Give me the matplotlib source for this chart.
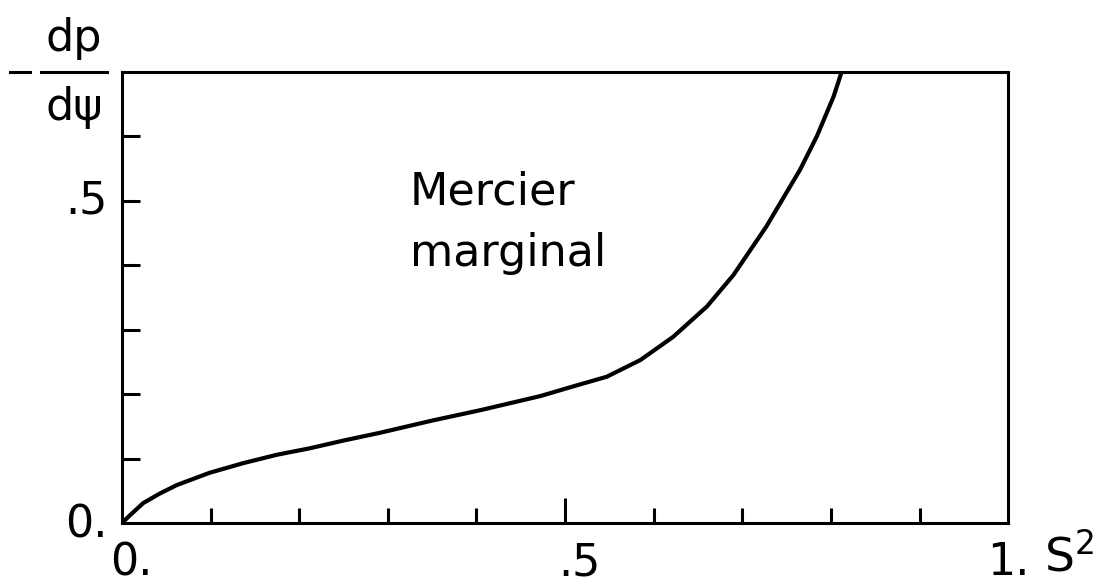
import matplotlib.pyplot as plt
from matplotlib.lines import Line2D

# Mercier marginal pressure gradient vs S^2
s2 = [0.0, 0.009, 0.024, 0.043, 0.062, 0.099, 0.137, 0.175, 0.212, 0.25,
      0.291, 0.35, 0.404, 0.472, 0.509, 0.547, 0.585, 0.622, 0.660, 0.690,
      0.727, 0.765, 0.784, 0.803, 0.812]
dpdpsi = [0.0, 0.012, 0.031, 0.046, 0.059, 0.078, 0.093, 0.106, 0.116, 0.128,
          0.140, 0.159, 0.175, 0.197, 0.212, 0.227, 0.253, 0.289, 0.336, 0.385,
          0.460, 0.548, 0.600, 0.662, 0.70]

x_minor = [0.1, 0.2, 0.3, 0.4, 0.6, 0.7, 0.8, 0.9]
y_minor = [0.1, 0.2, 0.3, 0.4, 0.6]

fs = 32
fig = plt.figure(figsize=(11.19, 5.88), dpi=100)
ax = fig.add_axes([0.109, 0.1105, 0.792, 0.7671])
ax.plot(s2, dpdpsi, color='black', lw=3.0, solid_capstyle='round',
        solid_joinstyle='round')
ax.set_xlim(0, 1)
ax.set_ylim(0, 0.7)

for sp in ax.spines.values():
    sp.set_linewidth(2.2)

ax.set_xticks(x_minor, minor=True)
ax.set_yticks(y_minor, minor=True)
ax.set_xticks([0.5])
ax.set_yticks([0.5])
ax.set_xticklabels([''])
ax.set_yticklabels([''])
ax.tick_params(which='both', direction='in', width=2.2, top=False, right=False)
ax.tick_params(axis='x', which='minor', length=11)
ax.tick_params(axis='x', which='major', length=18)
ax.tick_params(axis='y', which='both', length=13)

# tick labels placed by hand in axes coordinates
ax.text(-0.016, 0.5, '.5', transform=ax.get_yaxis_transform(), ha='right', va='center', fontsize=fs)
ax.text(-0.016, -0.005, '0.', transform=ax.transAxes, ha='right', va='center', fontsize=fs)
ax.text(-0.013, -0.04, '0.', transform=ax.transAxes, ha='left', va='top', fontsize=fs)
ax.text(0.516, -0.04, '.5', transform=ax.transAxes, ha='center', va='top', fontsize=fs)
ax.text(1.0, -0.04, '1.', transform=ax.transAxes, ha='center', va='top', fontsize=fs)
ax.text(1.04, -0.025, 'S$^2$', transform=ax.transAxes, ha='left', va='top', fontsize=fs + 2)

ax.text(0.325, 0.665, 'Mercier\nmarginal', transform=ax.transAxes, ha='left', va='center',
        fontsize=fs, linespacing=1.55)

# -dp/dpsi label
fig.text(0.066, 0.935, 'dp', ha='center', va='center', fontsize=fs)
fig.text(0.066, 0.818, 'dψ', ha='center', va='center', fontsize=fs)
fig.add_artist(Line2D([0.037, 0.096], [0.8776, 0.8776], color='black', lw=2.2))
fig.add_artist(Line2D([0.009, 0.027], [0.8776, 0.8776], color='black', lw=2.2))

fig.savefig('out.png', dpi=100)
